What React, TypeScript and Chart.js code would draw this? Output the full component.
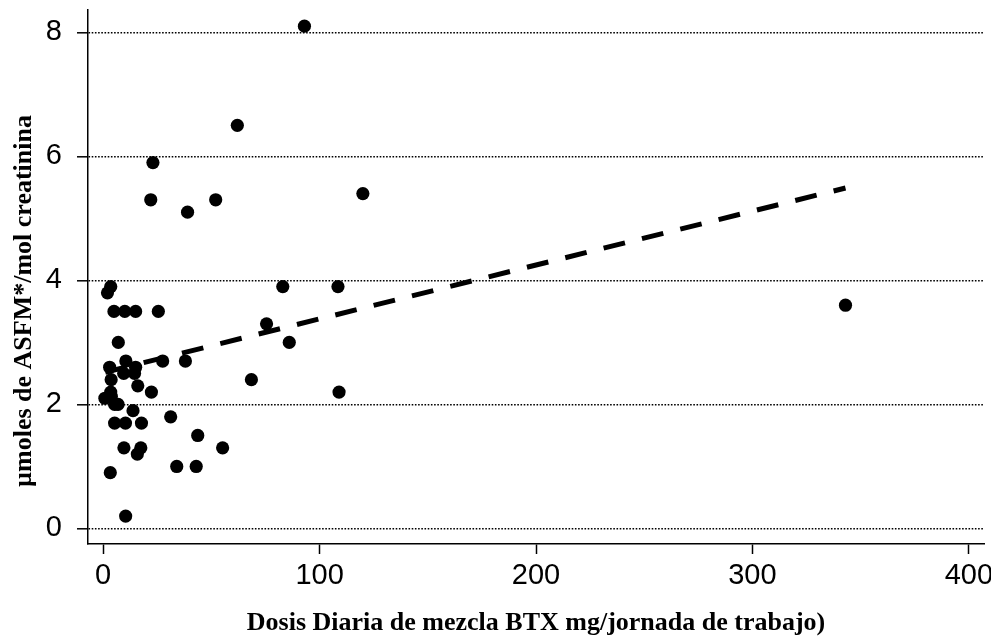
import React, { useEffect, useRef } from "react";
import { Chart, registerables } from "chart.js";

Chart.register(...registerables);

// Daily BTX dose (mg / work shift) per worker
const doseX = [
  93, 62, 23, 22, 52, 39, 120, 2, 3.5, 83,
  108.5, 5, 10, 15, 25.5, 75.5, 343, 7, 86, 3,
  10.5, 9.5, 15, 14.5, 27.5, 38, 3.7, 68.5, 16, 3.5,
  22.3, 109, 0.8, 3.8, 5.3, 6.9, 13.8, 31.2, 5.3, 10.3,
  17.7, 43.7, 9.6, 17.4, 55.2, 15.8, 34, 43, 3.3, 10.4,
];
// µmol ASFM per mol creatinine
const asfmY = [
  8.1, 6.5, 5.9, 5.3, 5.3, 5.1, 5.4, 3.8, 3.9, 3.9,
  3.9, 3.5, 3.5, 3.5, 3.5, 3.3, 3.6, 3.0, 3.0, 2.6,
  2.7, 2.5, 2.6, 2.5, 2.7, 2.7, 2.4, 2.4, 2.3, 2.2,
  2.2, 2.2, 2.1, 2.13, 2.0, 2.0, 1.9, 1.8, 1.7, 1.7,
  1.7, 1.5, 1.3, 1.3, 1.3, 1.2, 1.0, 1.0, 0.9, 0.2,
];
// Fitted regression line end points
const fitX = [1, 343];
const fitY = [2.52, 5.49];

const xTicks = [0, 100, 200, 300, 400];
const yTicks = [0, 2, 4, 6, 8];

const xTitle = "Dosis Diaria de mezcla BTX mg/jornada de trabajo)";
const yTitle = "\u00B5moles de ASFM*/mol creatinina";

const tickFont = { family: '"Liberation Sans", Arial, Helvetica, sans-serif', size: 29 };

const axisTitles = {
  id: "axisTitles",
  afterDraw(chart: any) {
    const ctx = chart.ctx;
    const a = chart.chartArea;
    ctx.save();
    ctx.fillStyle = "#000";
    ctx.font = 'bold 26px "Liberation Serif", "Times New Roman", serif';
    ctx.textAlign = "center";
    ctx.textBaseline = "middle";
    ctx.fillText(xTitle, (a.left + a.right) / 2, a.bottom + 79);
    ctx.translate(24, a.top + 291);
    ctx.rotate(-Math.PI / 2);
    ctx.fillText(yTitle, 0, 0);
    ctx.restore();
  },
};

export default function App() {
  const ref = useRef<HTMLCanvasElement | null>(null);

  useEffect(() => {
    if (!ref.current) return;
    const points = doseX.map((x, i) => ({ x, y: asfmY[i] }));
    const fit = fitX.map((x, i) => ({ x, y: fitY[i] }));
    const chart = new Chart(ref.current, {
      type: "scatter",
      data: {
        datasets: [
          {
            type: "line",
            data: fit,
            borderColor: "#000",
            borderWidth: 5,
            borderDash: [22, 17.5],
            borderCapStyle: "butt",
            pointRadius: 0,
            fill: false,
            order: 2,
          },
          {
            data: points,
            backgroundColor: "#000",
            borderWidth: 0,
            pointRadius: 6.6,
            order: 1,
          },
        ],
      } as any,
      options: {
        animation: false,
        responsive: false,
        events: [],
        layout: { padding: { left: 0, top: 10, right: 7, bottom: 0 } },
        plugins: { legend: { display: false }, tooltip: { enabled: false } },
        scales: {
          x: {
            type: "linear",
            min: -7,
            max: 407,
            afterBuildTicks: (s: any) => {
              s.ticks = xTicks.map((v) => ({ value: v }));
            },
            afterFit: (s: any) => {
              s.height = 97;
              s.paddingLeft = 0;
              s.paddingRight = 0;
            },
            grid: {
              drawOnChartArea: false,
              drawTicks: true,
              tickLength: 10,
              tickColor: "#000",
              tickWidth: 1.5,
            },
            border: { display: true, color: "#000", width: 1.5 },
            ticks: { color: "#000", font: tickFont, padding: 5, maxRotation: 0 },
          },
          y: {
            type: "linear",
            min: -0.25,
            max: 8.36,
            afterBuildTicks: (s: any) => {
              s.ticks = yTicks.map((v) => ({ value: v }));
            },
            afterFit: (s: any) => {
              s.width = 88;
              s.paddingTop = 0;
              s.paddingBottom = 0;
            },
            grid: {
              drawOnChartArea: true,
              color: "#000",
              lineWidth: 1.6,
              drawTicks: true,
              tickLength: 11,
              tickColor: "#000",
              tickWidth: 1.5,
              tickBorderDash: [],
            },
            border: { display: true, color: "#000", width: 1.5, dash: [1.6, 1.6] },
            ticks: { color: "#000", font: tickFont, padding: 15 },
          },
        },
      } as any,
      plugins: [axisTitles],
    });
    return () => chart.destroy();
  }, []);

  return (
    <div style={{ position: "absolute", left: 0, top: 0, width: 991, height: 641, background: "#fff" }}>
      <canvas ref={ref} width={991} height={641} style={{ display: "block" }} />
    </div>
  );
}
